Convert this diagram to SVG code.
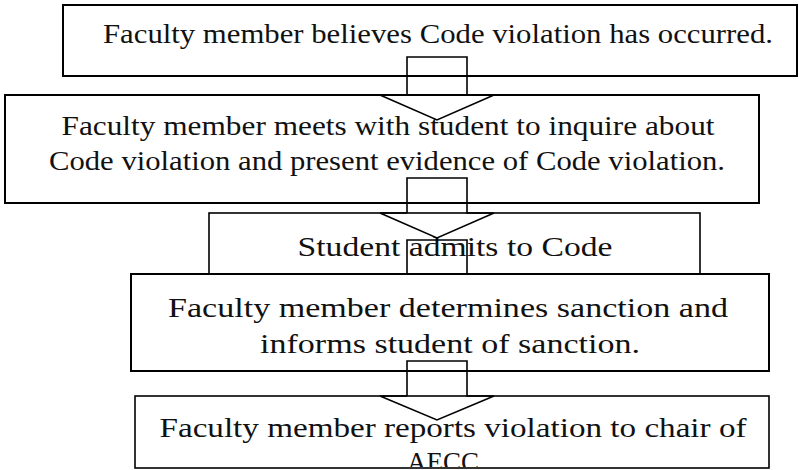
<svg xmlns="http://www.w3.org/2000/svg" width="799" height="470" viewBox="0 0 799 470">
<style>
.box{fill:#fff;stroke:#000;stroke-width:2}
.thin{fill:none;stroke:#000;stroke-width:1.6}
.t{font-family:"Liberation Serif","Times New Roman",serif;font-size:27px;fill:#111;text-anchor:middle}
.arr{fill:none;stroke:#000;stroke-width:1.6;stroke-linejoin:miter}
</style>
<defs>
<clipPath id="c5"><rect x="135" y="396" width="634" height="71"/></clipPath>
</defs>
<rect width="799" height="470" fill="#fff"/>
<g id="n1">
<rect class="box" x="63" y="5" width="734" height="71"/>
<text class="t" x="438" y="43" textLength="670" lengthAdjust="spacingAndGlyphs">Faculty member believes Code violation has occurred.</text>
</g>
<g id="n2">
<rect class="box" x="5" y="95" width="754" height="108"/>
<text class="t" x="388" y="135" textLength="653" lengthAdjust="spacingAndGlyphs">Faculty member meets with student to inquire about</text>
<text class="t" x="387" y="170" textLength="676" lengthAdjust="spacingAndGlyphs">Code violation and present evidence of Code violation.</text>
</g>
<g id="n3">
<rect class="thin" x="209" y="213" width="491" height="61"/>
<text class="t" x="455" y="256" textLength="315" lengthAdjust="spacingAndGlyphs">Student admits to Code</text>
</g>
<g id="n4">
<rect class="box" x="131" y="274" width="638" height="97"/>
<text class="t" x="448" y="317" textLength="560" lengthAdjust="spacingAndGlyphs">Faculty member determines sanction and</text>
<text class="t" x="450" y="353" textLength="380" lengthAdjust="spacingAndGlyphs">informs student of sanction.</text>
</g>
<g id="n5">
<rect class="thin" x="135" y="396" width="634" height="72" fill="#fff"/>
<g clip-path="url(#c5)">
<text class="t" x="453" y="437" textLength="587" lengthAdjust="spacingAndGlyphs">Faculty member reports violation to chair of</text>
<text class="t" x="443" y="471">AECC</text>
</g>
</g>
<g id="connectors">
<path class="arr" d="M407,95 V57 H467 V95 H494 L437,120 L380,95 H407"/>
<path class="arr" d="M407,213 V178 H467 V213 H494 L437,238 L380,213 H407"/>
<path class="arr" d="M407,274 V240 H467 V274"/>
<path class="arr" d="M407,396 V361 H467 V396 H494 L437,420 L380,396 H407"/>
</g>
</svg>
